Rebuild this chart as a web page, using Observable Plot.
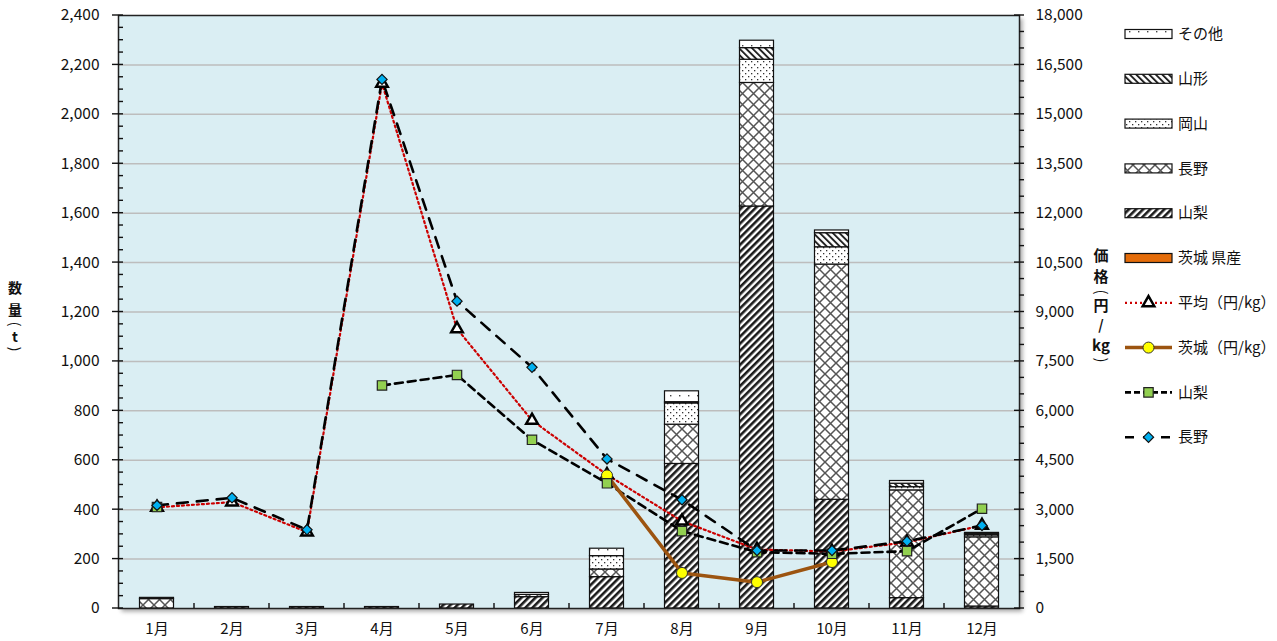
<!DOCTYPE html>
<html><head><meta charset="utf-8">
<script src="https://cdn.jsdelivr.net/npm/d3@7"></script>
<script src="https://cdn.jsdelivr.net/npm/@observablehq/plot@0.6"></script>
<style>
body{margin:0;background:#fff;font-family:"Noto Sans CJK JP","Noto Sans",sans-serif;}
#wrap{position:relative;width:1277px;height:641px;overflow:hidden;}
#overlay{position:absolute;left:0;top:0;pointer-events:none;}
</style></head><body>
<svg width="0" height="0" style="position:absolute">
<defs>
<pattern id="pSonota" width="9" height="7" patternUnits="userSpaceOnUse">
  <rect width="9" height="7" fill="#fff"/>
  <rect x="4" y="3" width="1.4" height="1.4" fill="#444"/>
</pattern>
<pattern id="pYamagata" width="4.6" height="4.6" patternUnits="userSpaceOnUse" patternTransform="rotate(-45)">
  <rect width="4.6" height="4.6" fill="#fff"/>
  <rect width="1.9" height="4.6" fill="#222"/>
</pattern>
<pattern id="pOkayama" width="6" height="6" patternUnits="userSpaceOnUse">
  <rect width="6" height="6" fill="#fff"/>
  <rect x="1" y="1" width="1.3" height="1.3" fill="#333"/>
  <rect x="4" y="4" width="1.3" height="1.3" fill="#333"/>
</pattern>
<pattern id="pNagano" width="11" height="11" patternUnits="userSpaceOnUse">
  <rect width="11" height="11" fill="#fff"/>
  <path d="M0,0L11,11M11,0L0,11" stroke="#555" stroke-width="1.5"/>
</pattern>
<pattern id="pYamanashi" width="5" height="5" patternUnits="userSpaceOnUse" patternTransform="rotate(45)">
  <rect width="5" height="5" fill="#fff"/>
  <rect width="2.6" height="5" fill="#1a1a1a"/>
</pattern>
</defs></svg>
<div id="wrap"></div>
<script>
// ---- data ----
const months = ["1月","2月","3月","4月","5月","6月","7月","8月","9月","10月","11月","12月"];
const seriesNames = ["茨城 県産","山梨","長野","岡山","山形","その他"];
const qtyIbaraki  = [0,0,0,0,0,0,0,0,0,0,0,0];
const qtyYamanashi= [0,6,6,6,16,46,127,585,1627,440,42,8];
const qtyNagano   = [38,0,0,0,0,9,31,159,500,952,436,280];
const qtyOkayama  = [0,0,0,0,0,0,54,86,94,70,13,8];
const qtyYamagata = [0,0,0,0,0,0,0,5,47,57,14,5];
const qtySonota   = [5,0,0,0,0,8,30,44,30,11,11,5];
const priceAvg      = [3070,3230,2320,15940,8490,5710,4060,2650,1790,1730,2010,2520];
const priceIbaraki  = [null,null,null,null,null,null,4040,1080,800,1410,null,null];
const priceYamanashi= [3080,null,null,6770,7090,5120,3800,2350,1710,1660,1740,3030];
const priceNagano   = [3130,3360,2390,16060,9330,7320,4540,3300,1760,1760,2040,2520];
const leftTicks = [0,200,400,600,800,1000,1200,1400,1600,1800,2000,2200,2400];
const priceRatio = 7.5; // right axis (円/kg) = left axis (t) * 7.5
const legendLabels = ["その他","山形","岡山","長野","山梨","茨城 県産","平均（円/kg）","茨城（円/kg）","山梨","長野"];

// ---- styles ----
const patternUrls = ["#E46C0A","url(#pYamanashi)","url(#pNagano)","url(#pOkayama)","url(#pYamagata)","url(#pSonota)"];
const qtyArrays = [qtyIbaraki,qtyYamanashi,qtyNagano,qtyOkayama,qtyYamagata,qtySonota];

const barRows = months.flatMap((m,i) => seriesNames.map((s,j) => ({month:m, series:s, value:qtyArrays[j][i]}))).filter(d => d.value > 0);
const toRows = arr => months.map((m,i) => ({month:m, v:arr[i]}));
const py = d => d.v == null ? NaN : d.v / priceRatio;
const avgRows = toRows(priceAvg), ibaRows = toRows(priceIbaraki), yamRows = toRows(priceYamanashi), nagRows = toRows(priceNagano);
const nn = rows => rows.filter(d => d.v != null);

const font = '"Noto Sans CJK JP","Noto Sans",sans-serif';
const chart = Plot.plot({
  width: 1277, height: 641,
  marginLeft: 118, marginRight: 258, marginTop: 15, marginBottom: 33,
  style: {fontFamily: font, fontSize: "15px", color: "#111", background: "transparent"},
  x: {type: "band", domain: months, padding: 0, axis: null},
  y: {domain: [0, 2400], axis: null},
  color: {type: "ordinal", domain: seriesNames, range: patternUrls},
  marks: [
    Plot.frame({fill: "#DAEEF3"}),
    Plot.ruleY(leftTicks.filter(d => d > 0 && d < 2400), {stroke: "#BDBDBD", strokeWidth: 1.5}),
    Plot.barY(barRows, {x: "month", y: "value", fill: "series", order: seriesNames, stroke: "#111", strokeWidth: 1.2, insetLeft: 20.5, insetRight: 20.5}),
    Plot.line(avgRows, {x: "month", y: py, stroke: "#CC0000", strokeWidth: 2.2, strokeDasharray: "2,3"}),
    Plot.line(yamRows, {x: "month", y: py, stroke: "#000", strokeWidth: 2.6, strokeDasharray: "8,5"}),
    Plot.line(nagRows, {x: "month", y: py, stroke: "#000", strokeWidth: 2.6, strokeDasharray: "11,9"}),
    Plot.line(ibaRows, {x: "month", y: py, stroke: "#9C5410", strokeWidth: 3.5}),
    Plot.dot(nn(avgRows), {x: "month", y: py, symbol: "triangle", r: 4.3, fill: "#fff", stroke: "#000", strokeWidth: 2.5}),
    Plot.dot(nn(ibaRows), {x: "month", y: py, symbol: "circle", r: 5.5, fill: "#FFFF00", stroke: "#333", strokeWidth: 1}),
    Plot.dot(nn(yamRows), {x: "month", y: py, symbol: "square", r: 5.3, fill: "#92D050", stroke: "#222", strokeWidth: 1.2}),
    Plot.dot(nn(nagRows), {x: "month", y: py, symbol: "diamond2", r: 4.6, fill: "#00B0F0", stroke: "#111", strokeWidth: 1.2}),
    Plot.frame({stroke: "#222", strokeWidth: 1.5}),
    Plot.axisY({ticks: leftTicks, tickFormat: d3.format(","), tickSize: 0, tickPadding: 19, label: null, fontSize: 15.5}),
    Plot.axisY({anchor: "right", ticks: leftTicks, tickFormat: d => d3.format(",")(d * priceRatio), tickSize: 0, tickPadding: 16, label: null, fontSize: 15.5}),
    Plot.axisX({tickSize: 0, tickPadding: 15, label: null, fontSize: 15})
  ]
});
document.getElementById("wrap").appendChild(chart);
d3.select(chart).select("[aria-label=frame]").style("filter","drop-shadow(3px 3px 2px rgba(0,0,0,0.35))");

// ---- overlay: ticks, axis titles, legend ----
const xs = chart.scale("x"), ys = chart.scale("y");
const X0 = xs.range[0], X1 = xs.range[1];
const Yb = ys.apply(0);
const ov = d3.select("#wrap").append("svg").attr("id","overlay").attr("width",1277).attr("height",641)
  .style("font-family", font);
const tk = ov.append("g").attr("stroke","#111").attr("stroke-width",1.4);
for (let v = 0; v <= 2400; v += 50) {
  const y = ys.apply(v), major = v % 200 === 0;
  tk.append("line").attr("x1", major ? X0 - 6 : X0).attr("x2", X0 + 5).attr("y1", y).attr("y2", y);
}
for (let k = 0; k <= 36; k++) {
  const y = ys.apply(k * 500 / priceRatio), major = k % 3 === 0;
  tk.append("line").attr("x1", major ? X1 - 5 : X1).attr("x2", X1 + 5).attr("y1", y).attr("y2", y);
}
months.slice(1).forEach(m => {
  const x = xs.apply(m);
  tk.append("line").attr("x1", x).attr("x2", x).attr("y1", Yb - 5).attr("y2", Yb);
});

// axis titles (vertical, one glyph per line; brackets turned)
function vtitle(parts, x, size) {
  const g = ov.append("g").attr("font-size", size).attr("font-weight", 600).attr("fill", "#111").attr("text-anchor", "middle");
  parts.forEach(([t, y, rot, fs]) => {
    const el = g.append("text").attr("x", x).attr("y", y).attr("dy", "0.35em").text(t);
    if (fs) el.attr("font-size", fs);
    if (rot) el.attr("transform", `rotate(90,${x},${y})`).attr("font-weight", 400);
  });
}
vtitle([["数",288],["量",310],["(",324,true],["t",337],[")",349,true]], 15, 14);
vtitle([["価",256],["格",277],["(",292,true],["円",306],["/",325,false,14],["kg",346],[")",360,true]], 1101, 15);

// legend
const lg = ov.append("g");
const lx0 = 1125, lx1 = 1172, ltx = 1178;
const rowY = i => 34 + i * 44.8;
const sym = (type, size) => d3.symbol(type, size)();
const rectFills = ["url(#pSonota)","url(#pYamagata)","url(#pOkayama)","url(#pNagano)","url(#pYamanashi)","#E46C0A"];
rectFills.forEach((f, i) => {
  lg.append("rect").attr("x", lx0).attr("y", rowY(i) - 4.5).attr("width", lx1 - lx0).attr("height", 9)
    .attr("fill", f).attr("stroke", "#111").attr("stroke-width", 1.2);
});
const lm = (lx0 + lx1) / 2;
lg.append("line").attr("x1", lx0).attr("x2", lx1).attr("y1", rowY(6)).attr("y2", rowY(6)).attr("stroke", "#CC0000").attr("stroke-width", 2.2).attr("stroke-dasharray", "2,3");
lg.append("path").attr("d", sym(d3.symbolTriangle, Math.PI * 4.3 * 4.3)).attr("transform", `translate(${lm},${rowY(6)})`).attr("fill", "#fff").attr("stroke", "#000").attr("stroke-width", 2.5);
lg.append("line").attr("x1", lx0).attr("x2", lx1).attr("y1", rowY(7)).attr("y2", rowY(7)).attr("stroke", "#9C5410").attr("stroke-width", 3.5);
lg.append("circle").attr("cx", lm).attr("cy", rowY(7)).attr("r", 5.5).attr("fill", "#FFFF00").attr("stroke", "#333");
lg.append("line").attr("x1", lx0).attr("x2", lx1).attr("y1", rowY(8)).attr("y2", rowY(8)).attr("stroke", "#000").attr("stroke-width", 2.6).attr("stroke-dasharray", "6,3");
lg.append("path").attr("d", sym(d3.symbolSquare, Math.PI * 5.3 * 5.3)).attr("transform", `translate(${lm},${rowY(8)})`).attr("fill", "#92D050").attr("stroke", "#222").attr("stroke-width", 1.2);
lg.append("line").attr("x1", lx0).attr("x2", lx1).attr("y1", rowY(9)).attr("y2", rowY(9)).attr("stroke", "#000").attr("stroke-width", 2.6).attr("stroke-dasharray", "9,9");
lg.append("path").attr("d", sym(d3.symbolDiamond2, Math.PI * 4.6 * 4.6)).attr("transform", `translate(${lm},${rowY(9)})`).attr("fill", "#00B0F0").attr("stroke", "#111").attr("stroke-width", 1.2);
legendLabels.forEach((t, i) => {
  lg.append("text").attr("x", ltx).attr("y", rowY(i)).attr("dy", "0.35em").attr("font-size", 15).attr("fill", "#111").text(t);
});
</script>
</body></html>
